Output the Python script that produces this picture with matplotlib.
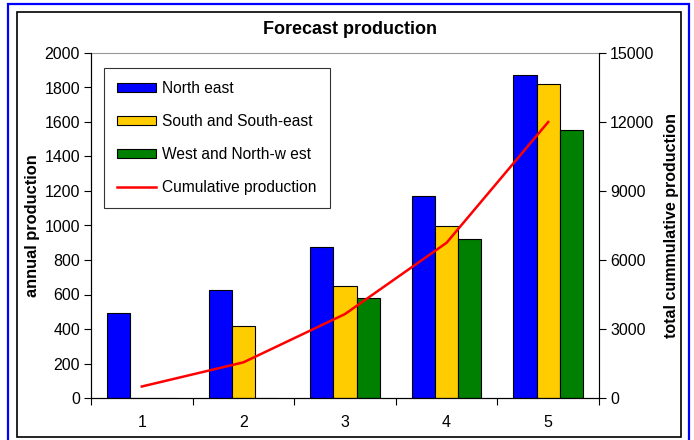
import matplotlib
matplotlib.use('Agg')
import matplotlib.pyplot as plt
import numpy as np
from matplotlib.patches import Rectangle

plt.rcParams['font.family'] = ['Liberation Sans', 'DejaVu Sans']

# data
categories = ['1', '2', '3', '4', '5']
north_east = [495, 628, 877, 1173, 1874]
south_south_east = [0, 419, 651, 999, 1822]
west_north_west = [0, 0, 578, 923, 1552]
cumulative = [500, 1550, 3650, 6750, 12000]

series_names = ['North east', 'South and South-east', 'West and North-w est']
series_colors = ['#0000FF', '#FFCC00', '#008000']

fig = plt.figure(figsize=(6.94, 4.40), dpi=100)
fig.patch.set_facecolor('white')

# outer frames
fig.add_artist(Rectangle((8 / 694, -0.01), 681 / 694, 1 - 4 / 440 + 0.01,
                         transform=fig.transFigure, fill=False,
                         edgecolor='#0000FF', linewidth=1.6))
fig.add_artist(Rectangle((17 / 694, 3 / 440), 664 / 694, 425 / 440,
                         transform=fig.transFigure, fill=False,
                         edgecolor='black', linewidth=1.2))

ax = fig.add_axes([91 / 694, 42 / 440, 508 / 694, 345 / 440])
x = np.arange(len(categories))
width = 0.228

values = [north_east, south_south_east, west_north_west]
for i, (vals, name, color) in enumerate(zip(values, series_names, series_colors)):
    ax.bar(x + (i - 1) * width, vals, width, color=color, edgecolor='black',
           linewidth=0.8, label=name, zorder=2)

ax.set_xlim(-0.5, len(categories) - 0.5)
ax.set_ylim(0, 2000)
ax.set_yticks(np.arange(0, 2001, 200))
ax.tick_params(axis='y', labelsize=11.5, length=5, width=0.8, pad=3)

# category ticks between groups, labels in the middle
ax.set_xticks(np.arange(-0.5, len(categories), 1.0))
ax.set_xticklabels([])
ax.set_xticks(x, minor=True)
ax.set_xticklabels(categories, minor=True)
ax.tick_params(axis='x', which='major', length=5, width=0.8)
ax.tick_params(axis='x', which='minor', length=0, labelsize=11.5, pad=12)

ax.spines['top'].set_color('#999999')
ax.spines['right'].set_color('#999999')
ax.set_ylabel('annual production', fontsize=11.8, fontweight='bold', labelpad=3)

ax2 = ax.twinx()
ax2.plot(x, cumulative, color='#FF0000', linewidth=1.8, label='Cumulative production', zorder=3)
ax2.set_ylim(0, 15000)
ax2.set_yticks(np.arange(0, 15001, 3000))
ax2.tick_params(axis='y', labelsize=11.5, length=5, width=0.8, pad=3)
ax2.spines['right'].set_color('black')
ax2.spines['top'].set_visible(False)
ax2.set_ylabel('total cummulative production', fontsize=11.5, fontweight='bold', labelpad=7)

fig.suptitle('Forecast production', x=0.505, y=0.952, fontsize=13, fontweight='bold')

# legend
h1, l1 = ax.get_legend_handles_labels()
h2, l2 = ax2.get_legend_handles_labels()
leg = ax2.legend(h1 + h2, l1 + l2, loc='upper left', bbox_to_anchor=(0.0256, 0.957),
                 borderaxespad=0, fontsize=11.2, frameon=True, fancybox=False,
                 edgecolor='black', labelspacing=1.15, handlelength=2.5,
                 handleheight=0.55, handletextpad=0.4, borderpad=0.85)
leg.get_frame().set_linewidth(0.8)

fig.savefig('out.png', dpi=100, facecolor='white')
plt.close(fig)
